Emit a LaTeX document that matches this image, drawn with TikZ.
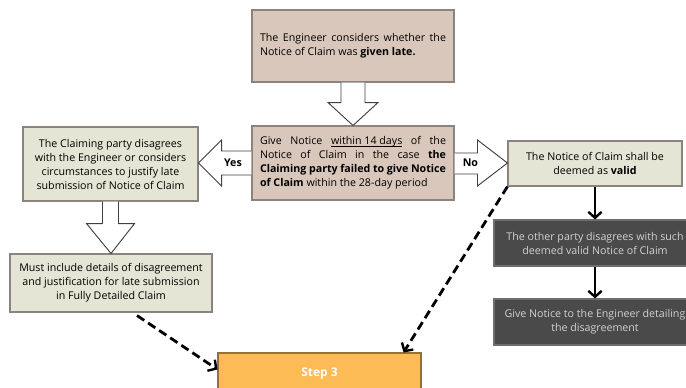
\documentclass[tikz,border=0pt]{standalone}
\usepackage{fontspec}
\setmainfont{Open Sans}
\usetikzlibrary{arrows.meta,positioning,calc}
\definecolor{taupe}{RGB}{217,199,187}
\definecolor{sage}{RGB}{228,229,212}
\definecolor{slate}{RGB}{74,74,74}
\definecolor{amber}{RGB}{253,187,86}
\definecolor{rim}{RGB}{140,132,124}
\tikzset{
  box/.style={draw=rim,line width=0.8pt,inner sep=0pt,align=center,
    font=\fontsize{8}{10.5}\selectfont},
  tanbox/.style={box,fill=taupe,align=justify},
  sagebox/.style={box,fill=sage},
  darkbox/.style={box,fill=slate,draw=slate!80,text=white!82!black},
  stepbox/.style={box,fill=amber,draw=amber!60!black,text=white,
    font=\fontsize{9}{11}\selectfont\bfseries},
  hollow/.style={draw=black!75,fill=white,line width=0.7pt,line join=miter},
  flow/.style={-{Straight Barb[length=4.5pt,width=10pt,line width=1.8pt]},line width=2.1pt},
  dashflow/.style={-{Straight Barb[length=4.5pt,width=10pt,line width=1.8pt]},line width=2.1pt,
    dash pattern=on 6.5pt off 3.5pt},
  tag/.style={font=\fontsize{8}{10}\selectfont\bfseries},
}
\newcommand{\lowline}[1]{\setbox0\hbox{#1}\rlap{\rule[-1.3pt]{\wd0}{0.4pt}}\box0\relax}

\begin{document}
\begin{tikzpicture}[x=0.75pt,y=-0.75pt]
\clip (0,0) rectangle (686,387);
\fill[white] (0,0) rectangle (686,387);

% boxes
\node[tanbox,minimum width=151.5pt,minimum height=54pt,text width=139.5pt] (consider) at (353,46)
  {The Engineer considers whether the Notice of Claim was \textbf{given late.}};
\node[tanbox,minimum width=151.5pt,minimum height=55.5pt,text width=139.5pt] (notice) at (353,163)
  {Give Notice \lowline{within 14 days} of the\linebreak Notice of Claim in the case \textbf{the}\linebreak
   \textbf{Claiming party failed to give Notice}\linebreak \textbf{of Claim} within the 28-day period};
\node[sagebox,minimum width=131.25pt,minimum height=55.5pt] (claimant) at (110.5,164)
  {The Claiming party disagrees\\with the Engineer or considers\\circumstances to justify late\\submission of Notice of Claim};
\node[sagebox,minimum width=151.5pt,minimum height=43.5pt] (detail) at (111,283)
  {Must include details of disagreement\\and justification for late submission\\in Fully Detailed Claim};
\node[sagebox,minimum width=130.5pt,minimum height=33.75pt] (valid) at (595,163.5)
  {The Notice of Claim shall be\\deemed as \textbf{valid}};
\node[darkbox,minimum width=151.5pt,minimum height=34.5pt] (dispute) at (595,243)
  {The other party disagrees with such\\deemed valid Notice of Claim};
\node[darkbox,minimum width=151.5pt,minimum height=34.5pt] (notify) at (595,322)
  {Give Notice to the Engineer detailing\\the disagreement};
\node[stepbox,minimum width=152.25pt,minimum height=37.5pt] (step) at (319.5,378)
  {\raisebox{9pt}{Step 3}};

% hollow block arrows
\draw[hollow] ($(consider.south)+(-12,0)$) -- ($(consider.south)+(-12,20)$)
  -- ($(consider.south)+(-25,20)$) -- (notice.north) -- ($(consider.south)+(25,20)$)
  -- ($(consider.south)+(12,20)$) -- ($(consider.south)+(12,0)$);
\draw[hollow] ($(claimant.south)+(-8,0)$) -- ($(claimant.south)+(-8,22)$)
  -- ($(claimant.south)+(-24,22)$) -- (detail.north) -- ($(claimant.south)+(24,22)$)
  -- ($(claimant.south)+(8,22)$) -- ($(claimant.south)+(8,0)$);
\coordinate (yestip) at (notice.west -| claimant.east);
\draw[hollow] ($(notice.west)+(0,-12)$) -- ($(yestip)+(23,-12)$) -- ($(yestip)+(23,-23)$)
  -- (yestip) -- ($(yestip)+(23,23)$) -- ($(yestip)+(23,12)$) -- ($(notice.west)+(0,12)$);
\coordinate (notip) at (notice.east -| valid.west);
\draw[hollow] ($(notice.east)+(0,-10)$) -- ($(notip)+(-30,-10)$) -- ($(notip)+(-30,-23)$)
  -- (notip) -- ($(notip)+(-30,23)$) -- ($(notip)+(-30,11)$) -- ($(notice.east)+(0,11)$);
\node[tag] (yes) at ($(notice.west)!0.35!(yestip)$) {Yes};
\node[tag] (no) at ($(notice.east)!0.3!(notip)$) {No};

% connectors
\draw[flow] (valid.south) -- (dispute.north);
\draw[flow] (dispute.south) -- (notify.north);
\coordinate (dashstart) at ($(detail.south)+(26,3)$);
\draw[dashflow] (dashstart) -- ($(step.north west)+(0,17)$);
\draw[dashflow] (valid.south west) -- ($(step.north east)+(-18,0)$);
\end{tikzpicture}
\end{document}
